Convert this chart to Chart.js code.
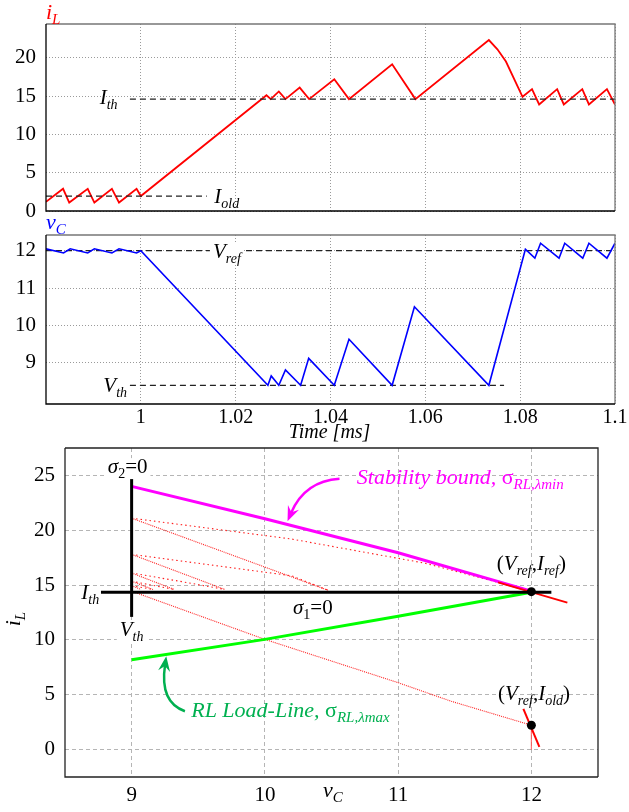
<!DOCTYPE html>
<html>
<head>
<meta charset="utf-8">
<script src="https://cdn.jsdelivr.net/npm/chart.js@4.4.0/dist/chart.umd.min.js"></script>
<style>
  html, body { margin: 0; padding: 0; background: #fff; }
  #wrap { position: relative; width: 629px; height: 812px; overflow: hidden; }
  canvas { position: absolute; left: 0; }
</style>
</head>
<body>
<div id="wrap">
  <canvas id="iLChart" width="629" height="222" style="top:0px"></canvas>
  <canvas id="vCChart" width="629" height="230" style="top:212px"></canvas>
  <canvas id="phaseChart" width="629" height="372" style="top:440px"></canvas>
</div>
<script>
// ---- time-domain data ----
const tIL = [0.98, 0.9836, 0.9849, 0.9888, 0.9902, 0.9939, 0.9954, 0.9991, 1.0, 1.0265, 1.0274, 1.0291, 1.0305,
  1.0335, 1.0355, 1.0408, 1.0439, 1.053, 1.0579, 1.0734, 1.0752, 1.0770, 1.0805, 1.0825, 1.084, 1.0878, 1.0892,
  1.0931, 1.0945, 1.0983, 1.1];
const iL = [1.2, 2.9, 1.1, 2.9, 1.1, 2.9, 1.1, 2.9, 1.95, 15.1, 14.6, 15.6, 14.6,
  16.1, 14.6, 17.2, 14.6, 19.15, 14.6, 22.3, 21.1, 19.5, 14.9, 15.9, 13.9, 15.9, 13.9,
  15.9, 13.9, 15.9, 13.9];

const tVC = [0.98, 0.9837, 0.9851, 0.9888, 0.9902, 0.9939, 0.9954, 0.9991, 1.0, 1.0268, 1.0275, 1.0291, 1.0305,
  1.0337, 1.0354, 1.0408, 1.0439, 1.053, 1.0577, 1.0734, 1.0770, 1.0811, 1.0831, 1.0843, 1.0882, 1.0894,
  1.0932, 1.0945, 1.0983, 1.1];
const vC = [12.05, 11.94, 12.05, 11.94, 12.05, 11.94, 12.05, 11.94, 12.0, 8.4, 8.65, 8.4, 8.81,
  8.4, 9.12, 8.4, 9.63, 8.4, 10.5, 8.4, 10.1, 12.04, 11.8, 12.2, 11.8, 12.2,
  11.8, 12.2, 11.8, 12.2];

const iTh = 14.6, iOld = 1.95, vRef = 12.0, vTh = 8.4;
const timeTicks = [1, 1.02, 1.04, 1.06, 1.08, 1.1];
const timeTickLabels = ['1', '1.02', '1.04', '1.06', '1.08', '1.1'];
const iLTicks = [0, 5, 10, 15, 20];
const vCTicks = [9, 10, 11, 12];

// ---- phase plane data ----
const stabV = [9, 10, 11, 12];
const stabI = [24.0, 21.05, 17.95, 14.45];
const loadV = [9, 10, 11, 12];
const loadI = [8.2, 10.05, 12.15, 14.35];
const mainTrajV = [9, 10, 11, 11.4, 12];
const mainTrajI = [14.44, 10.05, 6.1, 4.4, 2.22];
const steepV = [[9, 10.48], [9, 9.7], [9, 9.32], [9, 9.16], [9, 9.07]];
const steepI = [[21.1, 14.5], [17.8, 14.6], [16.1, 14.6], [15.35, 14.6], [14.95, 14.6]];
const shallowV = [[9, 10.2, 11.2, 12], [9, 10.2, 10.48], [9, 9.36, 9.7], [9, 9.32], [9, 9.16]];
const shallowI = [[21.1, 19.2, 17.0, 14.45], [17.8, 15.85, 14.5], [16.1, 15.35, 14.6], [15.35, 14.6], [14.95, 14.6]];
const refSlopeV = [11.75, 12.27];
const refSlopeI = [15.25, 13.4];
const oldSlopeV = [11.94, 12.06];
const oldSlopeI = [3.72, 0.25];
const sigma1V = [8.77, 12.15];
const sigma1I = [14.35, 14.35];
const sigma2V = [9, 9];
const sigma2I = [12.1, 24.8];
const refPtV = [12, 12];
const refPtI = [14.4, 2.22];
const phaseVTicks = [9, 10, 11, 12];
const phaseITicks = [0, 5, 10, 15, 20, 25];

const serif = "'Liberation Serif', 'DejaVu Serif', serif";
Chart.defaults.font.family = serif;
Chart.defaults.color = '#000';
Chart.defaults.animation = false;

const zip = (xs, ys) => xs.map((x, i) => ({ x: x, y: ys[i] }));

function line(xs, ys, color, width, dash, order) {
  return {
    data: zip(xs, ys), showLine: true, borderColor: color, borderWidth: width,
    borderDash: dash || [], pointRadius: 0, pointHoverRadius: 0, fill: false, order: order || 1
  };
}

// fixed box sizes so the plot areas land where the figure has them
function fixBox(w, h) {
  return s => {
    if (w != null) s.width = w;
    if (h != null) s.height = h;
    s.paddingTop = 0; s.paddingBottom = 0; s.paddingLeft = 0; s.paddingRight = 0;
  };
}

function fontStr(kind, fs) {
  const sub = kind.charAt(0) === 's';
  const it = kind.charAt(kind.length - 1) === 'i';
  return (it ? 'italic ' : '') + Math.round(sub ? fs * 0.68 : fs) + 'px ' + serif;
}

// text with subscripts; parts = [[text, kind]] kind: i / n / si / sn
function rich(ctx, x, y, parts, o) {
  o = o || {};
  const fs = o.size || 21;
  ctx.save();
  ctx.textBaseline = 'alphabetic';
  ctx.textAlign = 'left';
  const ws = parts.map(p => { ctx.font = fontStr(p[1], fs); return ctx.measureText(p[0]).width; });
  const w = ws.reduce((s, v) => s + v, 0);
  let x0 = o.align === 'right' ? x - w : o.align === 'center' ? x - w / 2 : x;
  if (o.bg) {
    ctx.fillStyle = '#fff';
    ctx.fillRect(x0 - 3, y - fs * 0.72, w + 6, fs * 1.0);
  }
  ctx.fillStyle = o.color || '#000';
  parts.forEach((p, i) => {
    ctx.font = fontStr(p[1], fs);
    ctx.fillText(p[0], x0, y + (p[1].charAt(0) === 's' ? fs * 0.24 : 0));
    x0 += ws[i];
  });
  ctx.restore();
}

function frame(ctx, a, dark, light) {
  ctx.save();
  ctx.lineWidth = 1.3;
  ctx.strokeStyle = light;
  ctx.beginPath();
  ctx.moveTo(a.left, a.top); ctx.lineTo(a.right, a.top); ctx.lineTo(a.right, a.bottom);
  ctx.stroke();
  ctx.strokeStyle = dark;
  ctx.beginPath();
  ctx.moveTo(a.left, a.top); ctx.lineTo(a.left, a.bottom); ctx.lineTo(a.right, a.bottom);
  ctx.stroke();
  ctx.restore();
}

function curvedArrow(ctx, p0, p1, p2, color, lw) {
  const ang = Math.atan2(p2.y - p1.y, p2.x - p1.x);
  const c = Math.cos(ang), s = Math.sin(ang);
  const hl = 15, hw = 6;
  ctx.save();
  ctx.strokeStyle = color; ctx.fillStyle = color; ctx.lineWidth = lw;
  ctx.beginPath();
  ctx.moveTo(p0.x, p0.y);
  ctx.quadraticCurveTo(p1.x, p1.y, p2.x - hl * 0.6 * c, p2.y - hl * 0.6 * s);
  ctx.stroke();
  ctx.beginPath();
  ctx.moveTo(p2.x, p2.y);
  ctx.lineTo(p2.x - hl * c + hw * s, p2.y - hl * s - hw * c);
  ctx.lineTo(p2.x - hl * 0.65 * c, p2.y - hl * 0.65 * s);
  ctx.lineTo(p2.x - hl * c - hw * s, p2.y - hl * s + hw * c);
  ctx.closePath();
  ctx.fill();
  ctx.restore();
}

const tickFont = { size: 21, family: serif };
const dottedGrid = { color: '#9a9a9a', lineWidth: 1, drawTicks: false };
const dashedGrid = { color: '#b5b5b5', lineWidth: 1, drawTicks: false };

function baseOptions(padding) {
  return {
    responsive: false,
    events: [],
    layout: { padding: padding },
    plugins: { legend: { display: false }, tooltip: { enabled: false } },
  };
}

function drawAll() {
  // ---- top: inductor current ----
  new Chart(document.getElementById('iLChart'), {
    type: 'scatter',
    data: {
      datasets: [
        line(tIL, iL, '#ff0000', 1.8, [], 2),
        line([0.9977, 1.1], [iTh, iTh], '#222', 1.2, [6, 4], 1),
        line([0.98, 1.0139], [iOld, iOld], '#222', 1.2, [6, 4], 1)
      ]
    },
    options: Object.assign(baseOptions({ top: 24, right: 14, bottom: 0, left: 0 }), {
      scales: {
        x: {
          type: 'linear', min: 0.98, max: 1.1,
          afterBuildTicks: s => { s.ticks = timeTicks.map(v => ({ value: v })); },
          afterFit: fixBox(null, 11),
          ticks: { display: false },
          grid: dottedGrid,
          border: { display: false, dash: [1, 2] }
        },
        y: {
          min: 0, max: 24.4,
          afterBuildTicks: s => { s.ticks = iLTicks.map(v => ({ value: v })); },
          afterFit: fixBox(46, null),
          ticks: { font: tickFont, padding: 10, callback: v => String(v) },
          grid: dottedGrid,
          border: { display: false, dash: [1, 2] }
        }
      }
    }),
    plugins: [{
      id: 'iLNotes',
      afterDatasetsDraw(chart) {
        const { ctx, chartArea: a, scales: { x, y } } = chart;
        frame(ctx, a, '#000', '#777');
        rich(ctx, a.left, a.top - 5, [['i', 'i'], ['L', 'si']], { color: '#ff0000', size: 22 });
        rich(ctx, x.getPixelForValue(0.9951), y.getPixelForValue(iTh) + 5, [['I', 'i'], ['th', 'si']], { align: 'right' });
        rich(ctx, x.getPixelForValue(1.0155), y.getPixelForValue(iOld) + 7, [['I', 'i'], ['old', 'si']]);
      }
    }]
  });

  // ---- middle: capacitor voltage ----
  new Chart(document.getElementById('vCChart'), {
    type: 'scatter',
    data: {
      datasets: [
        line(tVC, vC, '#0000ff', 1.6, [], 2),
        line([0.98, 1.1], [vRef, vRef], '#222', 1.2, [6, 4], 3),
        line([0.9977, 1.0766], [vTh, vTh], '#222', 1.2, [6, 4], 3)
      ]
    },
    options: Object.assign(baseOptions({ top: 23, right: 14, bottom: 0, left: 0 }), {
      scales: {
        x: {
          type: 'linear', min: 0.98, max: 1.1,
          afterBuildTicks: s => { s.ticks = timeTicks.map(v => ({ value: v })); },
          afterFit: fixBox(null, 38),
          ticks: { font: { size: 20, family: serif }, padding: 2, maxRotation: 0, autoSkip: false,
                   callback: (v, i) => timeTickLabels[i] },
          grid: dottedGrid,
          border: { display: false, dash: [1, 2] }
        },
        y: {
          min: 7.9, max: 12.42,
          afterBuildTicks: s => { s.ticks = vCTicks.map(v => ({ value: v })); },
          afterFit: fixBox(46, null),
          ticks: { font: tickFont, padding: 10, callback: v => String(v) },
          grid: dottedGrid,
          border: { display: false, dash: [1, 2] }
        }
      }
    }),
    plugins: [{
      id: 'vCNotes',
      afterDatasetsDraw(chart) {
        const { ctx, chartArea: a, scales: { x, y } } = chart;
        frame(ctx, a, '#000', '#777');
        rich(ctx, a.left, a.top - 6, [['v', 'i'], ['C', 'si']], { color: '#0000ff', size: 22 });
        rich(ctx, x.getPixelForValue(1.0152), y.getPixelForValue(vRef) + 7, [['V', 'i'], ['ref', 'si']], { bg: true });
        rich(ctx, x.getPixelForValue(0.9971), y.getPixelForValue(vTh) + 7, [['V', 'i'], ['th', 'si']], { align: 'right' });
        rich(ctx, x.getPixelForValue(1.0398), a.bottom + 34, [['Time [ms]', 'i']], { align: 'center', size: 20 });
      }
    }]
  });

  // ---- bottom: phase plane ----
  const phaseSets = [];
  steepV.forEach((vs, k) => phaseSets.push(line(vs, steepI[k], '#ff2020', 1.1, [1, 1], 10)));
  shallowV.forEach((vs, k) => phaseSets.push(line(vs, shallowI[k], '#ff2020', 1.1, [1.5, 3], 10)));
  phaseSets.push(line(mainTrajV, mainTrajI, '#ff2020', 1.1, [1, 1], 10));
  phaseSets.push(line([12, 12], [2.22, 0], 'rgba(255,80,80,0.45)', 1, [], 10));
  phaseSets.push(line(stabV, stabI, '#ff00ff', 3, [], 8));
  phaseSets.push(line(loadV, loadI, '#00ff00', 3, [], 7));
  phaseSets.push(line(refSlopeV, refSlopeI, '#ff0000', 2, [], 6));
  phaseSets.push(line(oldSlopeV, oldSlopeI, '#ff0000', 2, [], 6));
  phaseSets.push(line(sigma1V, sigma1I, '#000', 3, [], 5));
  phaseSets.push(line(sigma2V, sigma2I, '#000', 3, [], 5));
  phaseSets.push({ data: zip(refPtV, refPtI), pointRadius: 4.5, pointBackgroundColor: '#000', pointBorderWidth: 0, showLine: false, order: 1 });

  new Chart(document.getElementById('phaseChart'), {
    type: 'scatter',
    data: { datasets: phaseSets },
    options: Object.assign(baseOptions({ top: 8, right: 31, bottom: 0, left: 0 }), {
      scales: {
        x: {
          type: 'linear', min: 8.5, max: 12.5,
          afterBuildTicks: s => { s.ticks = phaseVTicks.map(v => ({ value: v })); },
          afterFit: fixBox(null, 35),
          ticks: { font: tickFont, padding: 6, callback: v => String(v) },
          grid: dashedGrid,
          border: { display: false, dash: [4, 3] }
        },
        y: {
          min: -2.5, max: 27.5,
          afterBuildTicks: s => { s.ticks = phaseITicks.map(v => ({ value: v })); },
          afterFit: fixBox(65, null),
          ticks: { font: tickFont, padding: 10, callback: v => String(v) },
          grid: dashedGrid,
          border: { display: false, dash: [4, 3] }
        }
      }
    }),
    plugins: [{
      id: 'phaseNotes',
      afterDatasetsDraw(chart) {
        const { ctx, chartArea: a, scales: { x, y } } = chart;
        const P = (v, i) => ({ x: x.getPixelForValue(v), y: y.getPixelForValue(i) });
        frame(ctx, a, '#222', '#222');
        rich(ctx, x.getPixelForValue(8.97), y.getPixelForValue(25.2), [['σ', 'i'], ['2', 'sn'], ['=0', 'n']], { align: 'center', bg: true });
        rich(ctx, x.getPixelForValue(8.757), y.getPixelForValue(14.35) + 7, [['I', 'i'], ['th', 'si']], { align: 'right' });
        rich(ctx, x.getPixelForValue(9.0), y.getPixelForValue(10.4), [['V', 'i'], ['th', 'si']], { align: 'center', bg: true });
        rich(ctx, x.getPixelForValue(10.36), y.getPixelForValue(12.4), [['σ', 'i'], ['1', 'sn'], ['=0', 'n']], { align: 'center' });
        rich(ctx, x.getPixelForValue(12.0), y.getPixelForValue(16.4),
          [['(', 'n'], ['V', 'i'], ['ref', 'si'], [',', 'n'], ['I', 'i'], ['ref', 'si'], [')', 'n']], { align: 'center' });
        rich(ctx, x.getPixelForValue(12.02), y.getPixelForValue(4.56),
          [['(', 'n'], ['V', 'i'], ['ref', 'si'], [',', 'n'], ['I', 'i'], ['old', 'si'], [')', 'n']], { align: 'center' });
        rich(ctx, x.getPixelForValue(10.69), y.getPixelForValue(24.2),
          [['Stability bound, ', 'i'], ['σ', 'n'], ['RL,λmin', 'si']], { color: '#ff00ff', size: 22 });
        rich(ctx, x.getPixelForValue(9.447), y.getPixelForValue(3.0),
          [['RL Load-Line, ', 'i'], ['σ', 'n'], ['RL,λmax', 'si']], { color: '#00b050', size: 22 });
        curvedArrow(ctx, P(10.56, 24.7), P(10.3, 24.5), P(10.17, 20.83), '#ff00ff', 2.5);
        curvedArrow(ctx, P(9.4, 3.5), P(9.21, 4.3), P(9.26, 8.51), '#00b050', 2.5);
        // axis titles
        ctx.save();
        ctx.translate(a.left - 45, y.getPixelForValue(11.9));
        ctx.rotate(-Math.PI / 2);
        rich(ctx, 0, 0, [['i', 'i'], ['L', 'si']], { align: 'center', size: 22 });
        ctx.restore();
        rich(ctx, x.getPixelForValue(10.51), a.bottom + 20, [['v', 'i'], ['C', 'si']], { align: 'center', size: 22 });
      }
    }]
  });
}

const fontsReady = document.fonts && document.fonts.load
  ? Promise.all([
      document.fonts.load("21px 'Liberation Serif'"),
      document.fonts.load("italic 21px 'Liberation Serif'")
    ]).catch(() => null)
  : Promise.resolve();
fontsReady.then(drawAll, drawAll);
</script>
</body>
</html>
